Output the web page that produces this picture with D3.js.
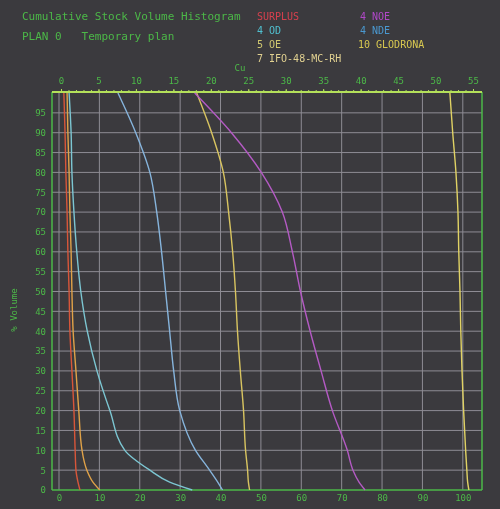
<!DOCTYPE html>
<html>
<head>
<meta charset="utf-8">
<script src="https://cdn.jsdelivr.net/npm/d3@7"></script>
<style>
  body { margin: 0; background: #3b3a3e; }
  svg { display: block; filter: blur(0.4px); }
  text { font-family: "DejaVu Sans Mono", monospace; }
</style>
</head>
<body>
<div id="chart"></div>
<script>
// cumulative levels (% volume) at which each curve is read
var levels = [100, 90, 80, 70, 60, 50, 40, 30, 20, 10, 5, 2, 0];

// series values (bottom scale, %)
var surplus = [1.2, 1.5, 1.7, 2.0, 2.2, 2.5, 2.7, 3.2, 3.7, 4.0, 4.2, 4.7, 5.2];
var ifo7    = [2.0, 2.2, 2.5, 2.7, 3.0, 3.2, 3.5, 4.2, 4.9, 5.7, 6.9, 8.4, 10.1];
var od4     = [2.5, 3.0, 3.2, 3.7, 4.4, 5.4, 7.0, 9.4, 12.6, 16.3, 22.5, 27.4, 33.0];
var nde4    = [14.6, 19.0, 22.5, 24.2, 25.4, 26.4, 27.4, 28.4, 29.9, 33.8, 37.3, 39.3, 40.5];
var oe5     = [34.1, 37.8, 40.7, 42.0, 43.0, 43.7, 44.2, 44.9, 45.7, 46.2, 46.7, 46.9, 47.2];
var noe4    = [33.6, 42.7, 50.1, 55.3, 57.8, 59.8, 62.2, 64.9, 67.7, 71.4, 72.8, 74.3, 75.8];
var glod10  = [96.8, 97.5, 98.3, 98.8, 99.0, 99.3, 99.5, 99.8, 100.2, 100.7, 101.0, 101.2, 101.5];

// tick labels
var bottomTicks = d3.range(0, 101, 10);
var topTicks = d3.range(0, 56, 5);
var leftTicks = d3.range(0, 96, 5);

var titleLines = ["Cumulative Stock Volume Histogram", "PLAN 0   Temporary plan"];
var legendNames = ["SURPLUS", "4 NOE", "4 OD", "4 NDE", "5 OE", "10 GLODRONA", "7 IFO-48-MC-RH"];

var series = [
  {name: "SURPLUS", values: surplus, color: "#d8563a"},
  {name: "7 IFO-48-MC-RH", values: ifo7, color: "#e0a248"},
  {name: "4 OD", values: od4, color: "#7cc6d2"},
  {name: "4 NDE", values: nde4, color: "#86b4dc"},
  {name: "5 OE", values: oe5, color: "#d8c460"},
  {name: "4 NOE", values: noe4, color: "#b45ac4"},
  {name: "10 GLODRONA", values: glod10, color: "#e0d264"}
];
var legendColors = {"SURPLUS": "#d8404e", "4 NOE": "#b048c8", "4 OD": "#50c0d0",
  "4 NDE": "#4a98d0", "5 OE": "#d0c870", "10 GLODRONA": "#d8c850", "7 IFO-48-MC-RH": "#e0d090"};

var width = 500, height = 509;
var green = "#4cb848";

var svg = d3.select("#chart").append("svg")
    .attr("width", width)
    .attr("height", height);

svg.append("rect").attr("width", width).attr("height", height).attr("fill", "#3b3a3e");

// scales
var x = d3.scaleLinear().domain([0, 105]).range([59, 483]);
var xTop = d3.scaleLinear().domain([0, 55]).range([61, 473]);
var y = d3.scaleLinear().domain([0, 100]).range([490, 93]);

var plotL = 52, plotR = 482, plotT = 92, plotB = 490;

// grid
svg.append("g").selectAll("line")
    .data(bottomTicks)
  .enter().append("line")
    .attr("x1", function(d) { return x(d); })
    .attr("x2", function(d) { return x(d); })
    .attr("y1", plotT).attr("y2", plotB)
    .attr("stroke", "#8e8c94").attr("stroke-width", 1);

svg.append("g").selectAll("line")
    .data(leftTicks.filter(function(d) { return d > 0; }))
  .enter().append("line")
    .attr("x1", plotL).attr("x2", plotR)
    .attr("y1", function(d) { return y(d); })
    .attr("y2", function(d) { return y(d); })
    .attr("stroke", "#8e8c94").attr("stroke-width", 1);

// frame
svg.append("line").attr("x1", plotL).attr("x2", plotL).attr("y1", plotT).attr("y2", plotB)
    .attr("stroke", green).attr("stroke-width", 1.5);
svg.append("line").attr("x1", plotR).attr("x2", plotR).attr("y1", plotT).attr("y2", plotB)
    .attr("stroke", green).attr("stroke-width", 1.5);
svg.append("line").attr("x1", plotL).attr("x2", plotR).attr("y1", plotB).attr("y2", plotB)
    .attr("stroke", green).attr("stroke-width", 1.5);
svg.append("line").attr("x1", plotL).attr("x2", plotR).attr("y1", plotT).attr("y2", plotT)
    .attr("stroke", "#b4e05a").attr("stroke-width", 2);

// curves
var line = d3.line()
    .x(function(d) { return x(d[0]); })
    .y(function(d) { return y(d[1]); })
    .curve(d3.curveMonotoneY);

series.forEach(function(s) {
  var pts = s.values.map(function(v, i) { return [v, levels[i]]; });
  svg.append("path")
      .datum(pts)
      .attr("fill", "none")
      .attr("stroke", s.color)
      .attr("stroke-width", 1.4)
      .attr("d", line);
});

// axes
svg.append("g")
    .attr("transform", "translate(0," + plotB + ")")
    .call(d3.axisBottom(x).tickValues(bottomTicks).tickSize(0).tickPadding(5));

svg.append("g")
    .attr("transform", "translate(" + plotL + ",0)")
    .call(d3.axisLeft(y).tickValues(leftTicks).tickSize(0).tickPadding(6));

svg.append("g")
    .attr("transform", "translate(0," + plotT + ")")
    .call(d3.axisTop(xTop).tickValues(topTicks).tickSize(3).tickPadding(5));

svg.append("g")
    .attr("transform", "translate(0," + plotT + ")")
    .call(d3.axisTop(xTop).tickValues(d3.range(0, 56, 1)).tickSize(2).tickFormat(""));

svg.selectAll(".domain").remove();
svg.selectAll(".tick line").attr("stroke", "#b4e05a");
svg.selectAll(".tick text").attr("fill", green).attr("font-size", 9)
    .style("font-family", "DejaVu Sans Mono, monospace");

svg.append("text")
    .attr("x", 240).attr("y", 71)
    .attr("text-anchor", "middle")
    .attr("fill", green).attr("font-size", 9)
    .text("Cu");

svg.append("text")
    .attr("transform", "translate(17,310) rotate(-90)")
    .attr("text-anchor", "middle")
    .attr("fill", green).attr("font-size", 9)
    .text("% Volume");

// titles
svg.selectAll(".title")
    .data(titleLines)
  .enter().append("text")
    .attr("class", "title")
    .attr("x", 22)
    .attr("y", function(d, i) { return 20 + i * 20; })
    .attr("fill", green)
    .attr("font-size", 11)
    .attr("xml:space", "preserve")
    .text(function(d) { return d; });

// legend
var legendPos = [[257, 20], [360, 20], [257, 34], [360, 34], [257, 48], [358, 48], [257, 62]];
svg.selectAll(".legend")
    .data(legendNames)
  .enter().append("text")
    .attr("class", "legend")
    .attr("x", function(d, i) { return legendPos[i][0]; })
    .attr("y", function(d, i) { return legendPos[i][1]; })
    .attr("fill", function(d) { return legendColors[d]; })
    .attr("font-size", 10)
    .text(function(d) { return d; });
</script>
</body>
</html>
